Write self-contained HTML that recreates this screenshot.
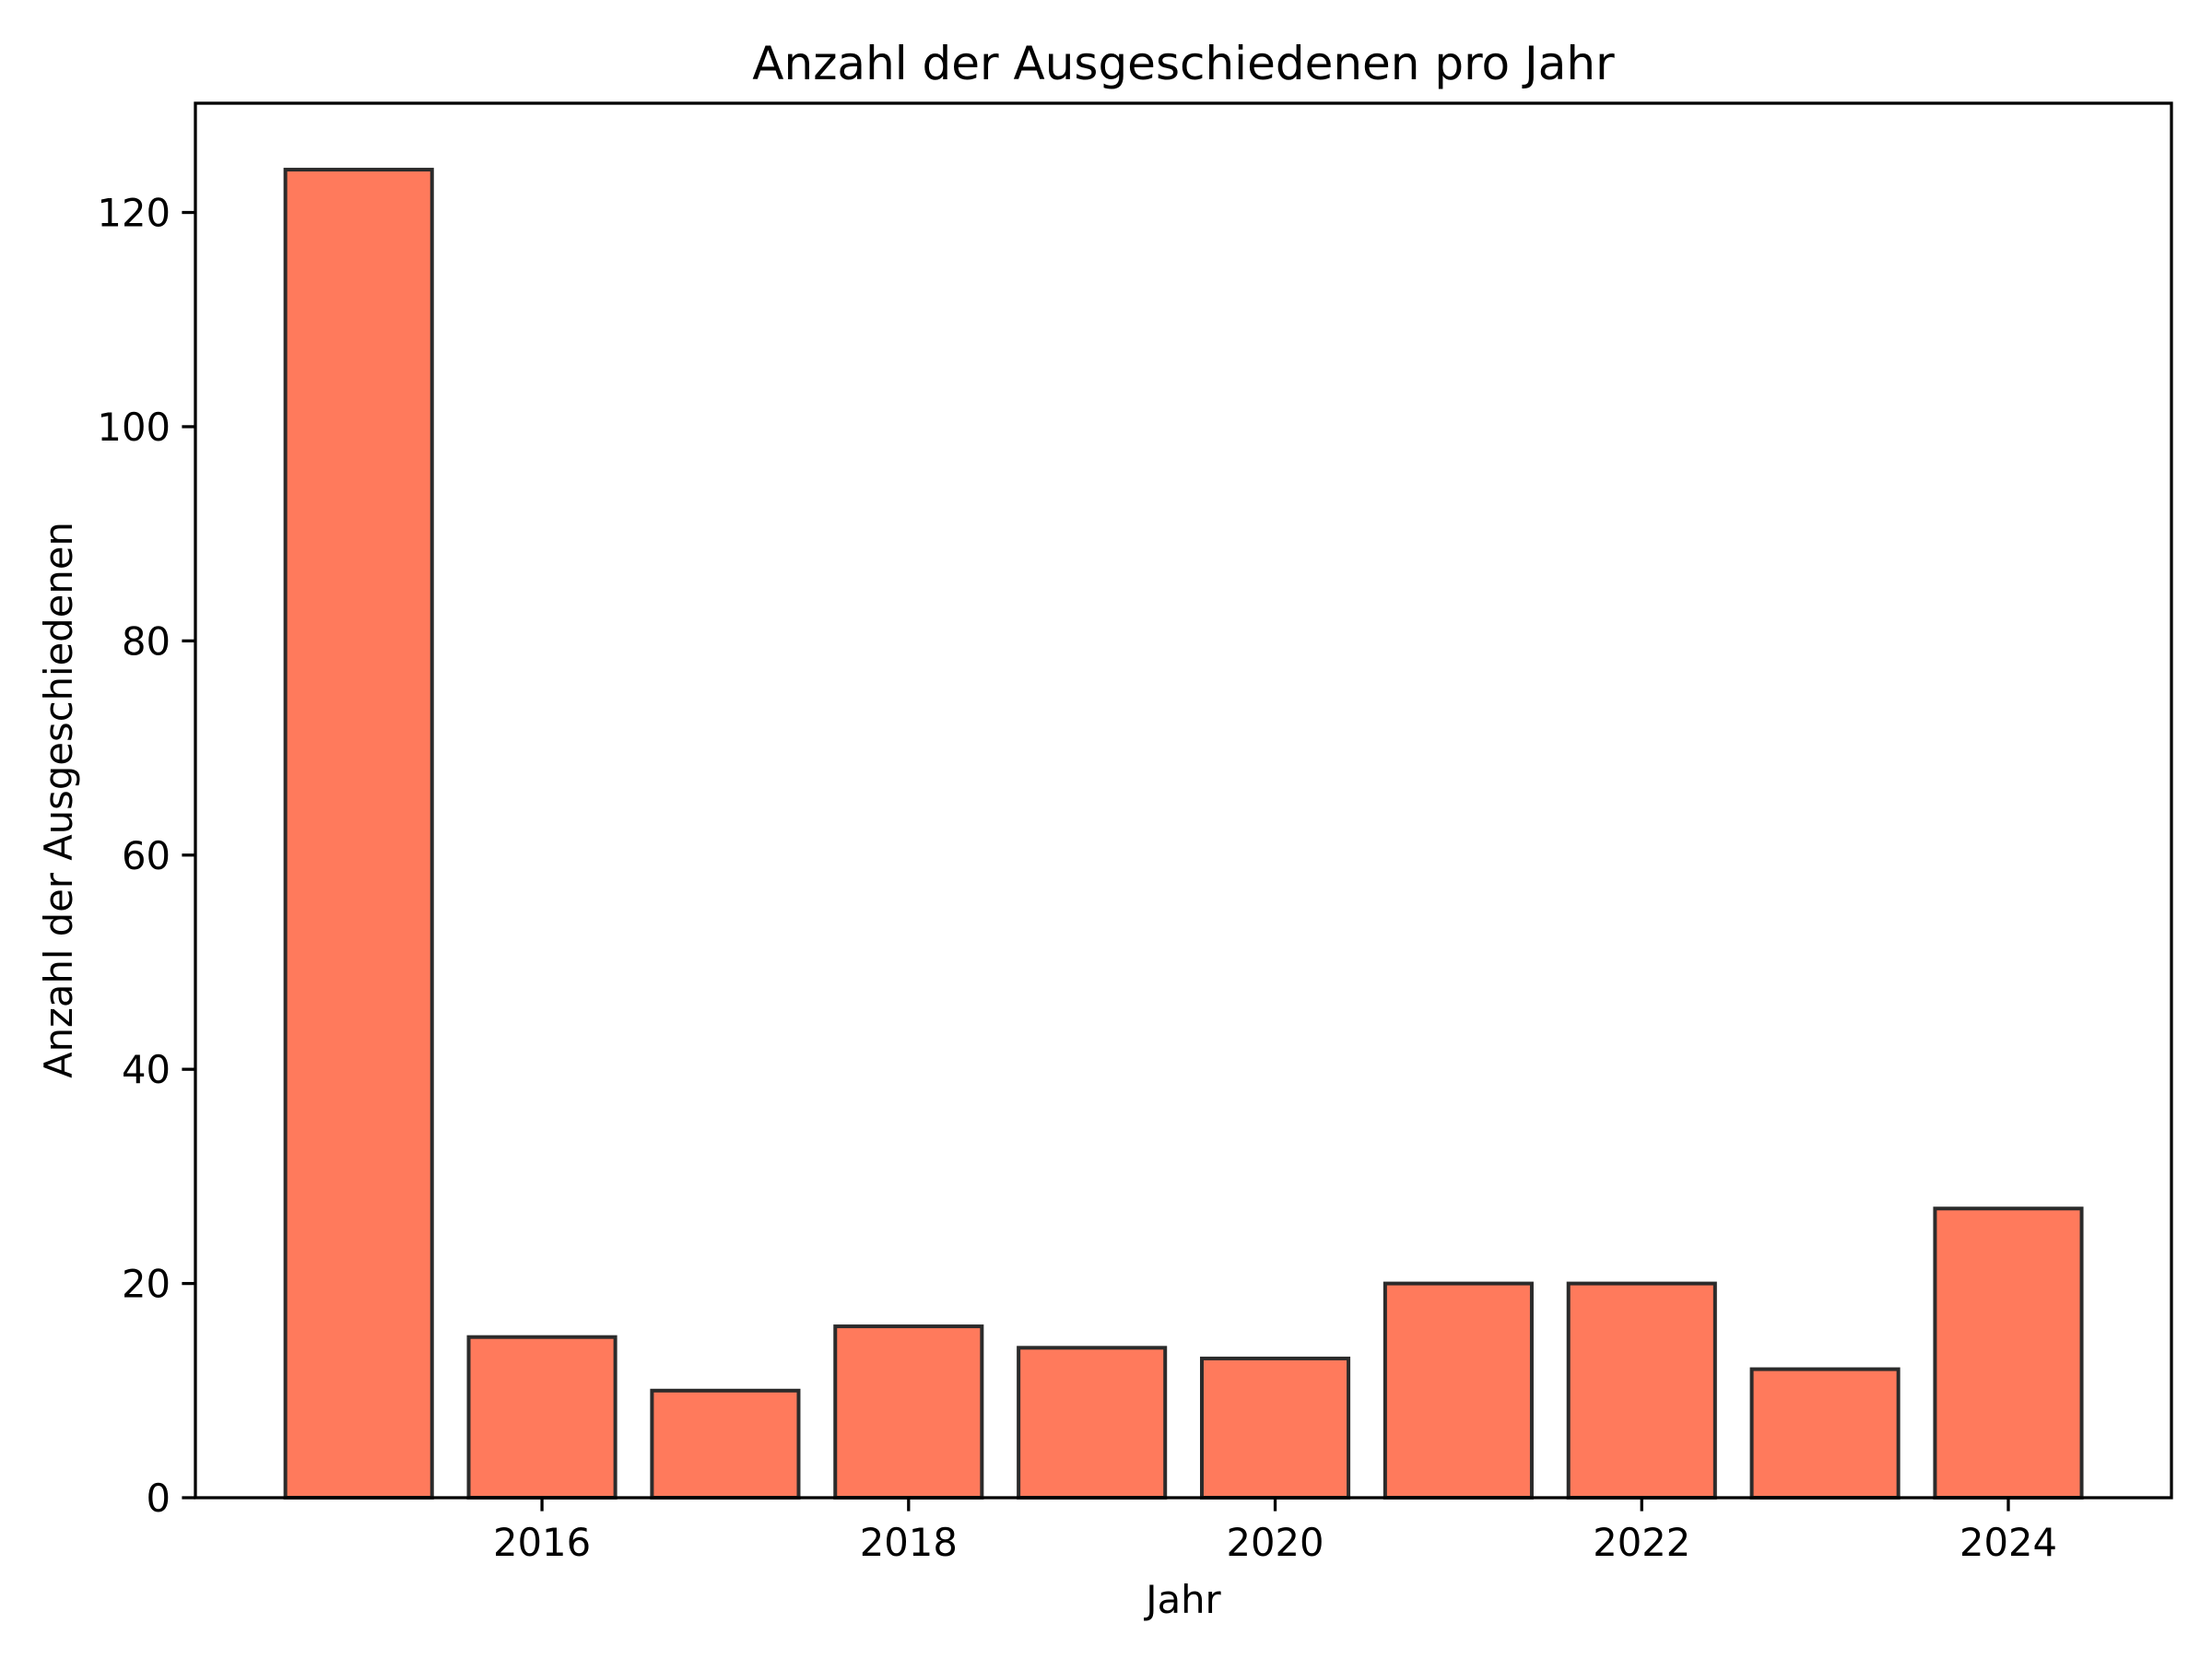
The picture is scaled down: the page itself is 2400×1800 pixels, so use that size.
<!DOCTYPE html>
<html><head><meta charset="utf-8"><style>body{margin:0;background:#fff}svg{display:block;font-family:"DejaVu Sans","Liberation Sans",sans-serif}</style></head>
<body>
<svg id="chart" width="2400" height="1800" viewBox="0 0 2400 1800" xmlns="http://www.w3.org/2000/svg">
<rect width="2400" height="1800" fill="#fff"/>
<g id="bars"></g>
<g id="axes"></g>
<text x="1284" y="86" font-size="50" text-anchor="middle">Anzahl der Ausgeschiedenen pro Jahr</text>
<text x="1284" y="1750" font-size="41.7" text-anchor="middle">Jahr</text>
<text transform="translate(78,868) rotate(-90)" font-size="41.7" text-anchor="middle">Anzahl der Ausgeschiedenen</text>
</svg>
<script>
const years = [2015,2016,2017,2018,2019,2020,2021,2022,2023,2024];
const counts = [124,15,10,16,14,13,20,20,12,27];
const xTicks = [2016,2018,2020,2022,2024];
const yTicks = [0,20,40,60,80,100,120];
const L=212,R=2356,T=112,B=1625;
const xMin=2014.109,xMax=2024.89,yMin=0,yMax=130.2;
const X=v=>L+(v-xMin)/(xMax-xMin)*(R-L);
const Y=v=>B-(v-yMin)/(yMax-yMin)*(B-T);
const NS="http://www.w3.org/2000/svg";
const bars=document.getElementById('bars'),axes=document.getElementById('axes');
function mk(tag,attrs,parent){const e=document.createElementNS(NS,tag);for(const k in attrs)e.setAttribute(k,attrs[k]);parent.appendChild(e);return e;}
years.forEach((yr,i)=>{
  const x0=X(yr-0.4),x1=X(yr+0.4);
  const r=mk('rect',{x:x0,y:Y(counts[i]),width:x1-x0,height:Y(0)-Y(counts[i]),fill:'#ff7a5c',stroke:'#2b2b2b','stroke-width':4},bars);
  
  
});
const frame=mk('rect',{x:L,y:T,width:R-L,height:B-T,fill:'none',stroke:'#000','stroke-width':3.3},axes);


xTicks.forEach(t=>{
  const l=mk('line',{x1:X(t),x2:X(t),y1:B,y2:B+14.6,stroke:'#000','stroke-width':3.3},axes);
  
  
  const tx=mk('text',{x:X(t),y:B+63,'font-size':41.7,'text-anchor':'middle'},axes);
  tx.textContent=t;
  
  
});
yTicks.forEach(t=>{
  const l=mk('line',{x1:L-14.6,x2:L,y1:Y(t),y2:Y(t),stroke:'#000','stroke-width':3.3},axes);
  
  
  const tx=mk('text',{x:L-27,y:Y(t)+15,'font-size':41.7,'text-anchor':'end'},axes);
  tx.textContent=t;
  
  
});
</script>
</body></html>
